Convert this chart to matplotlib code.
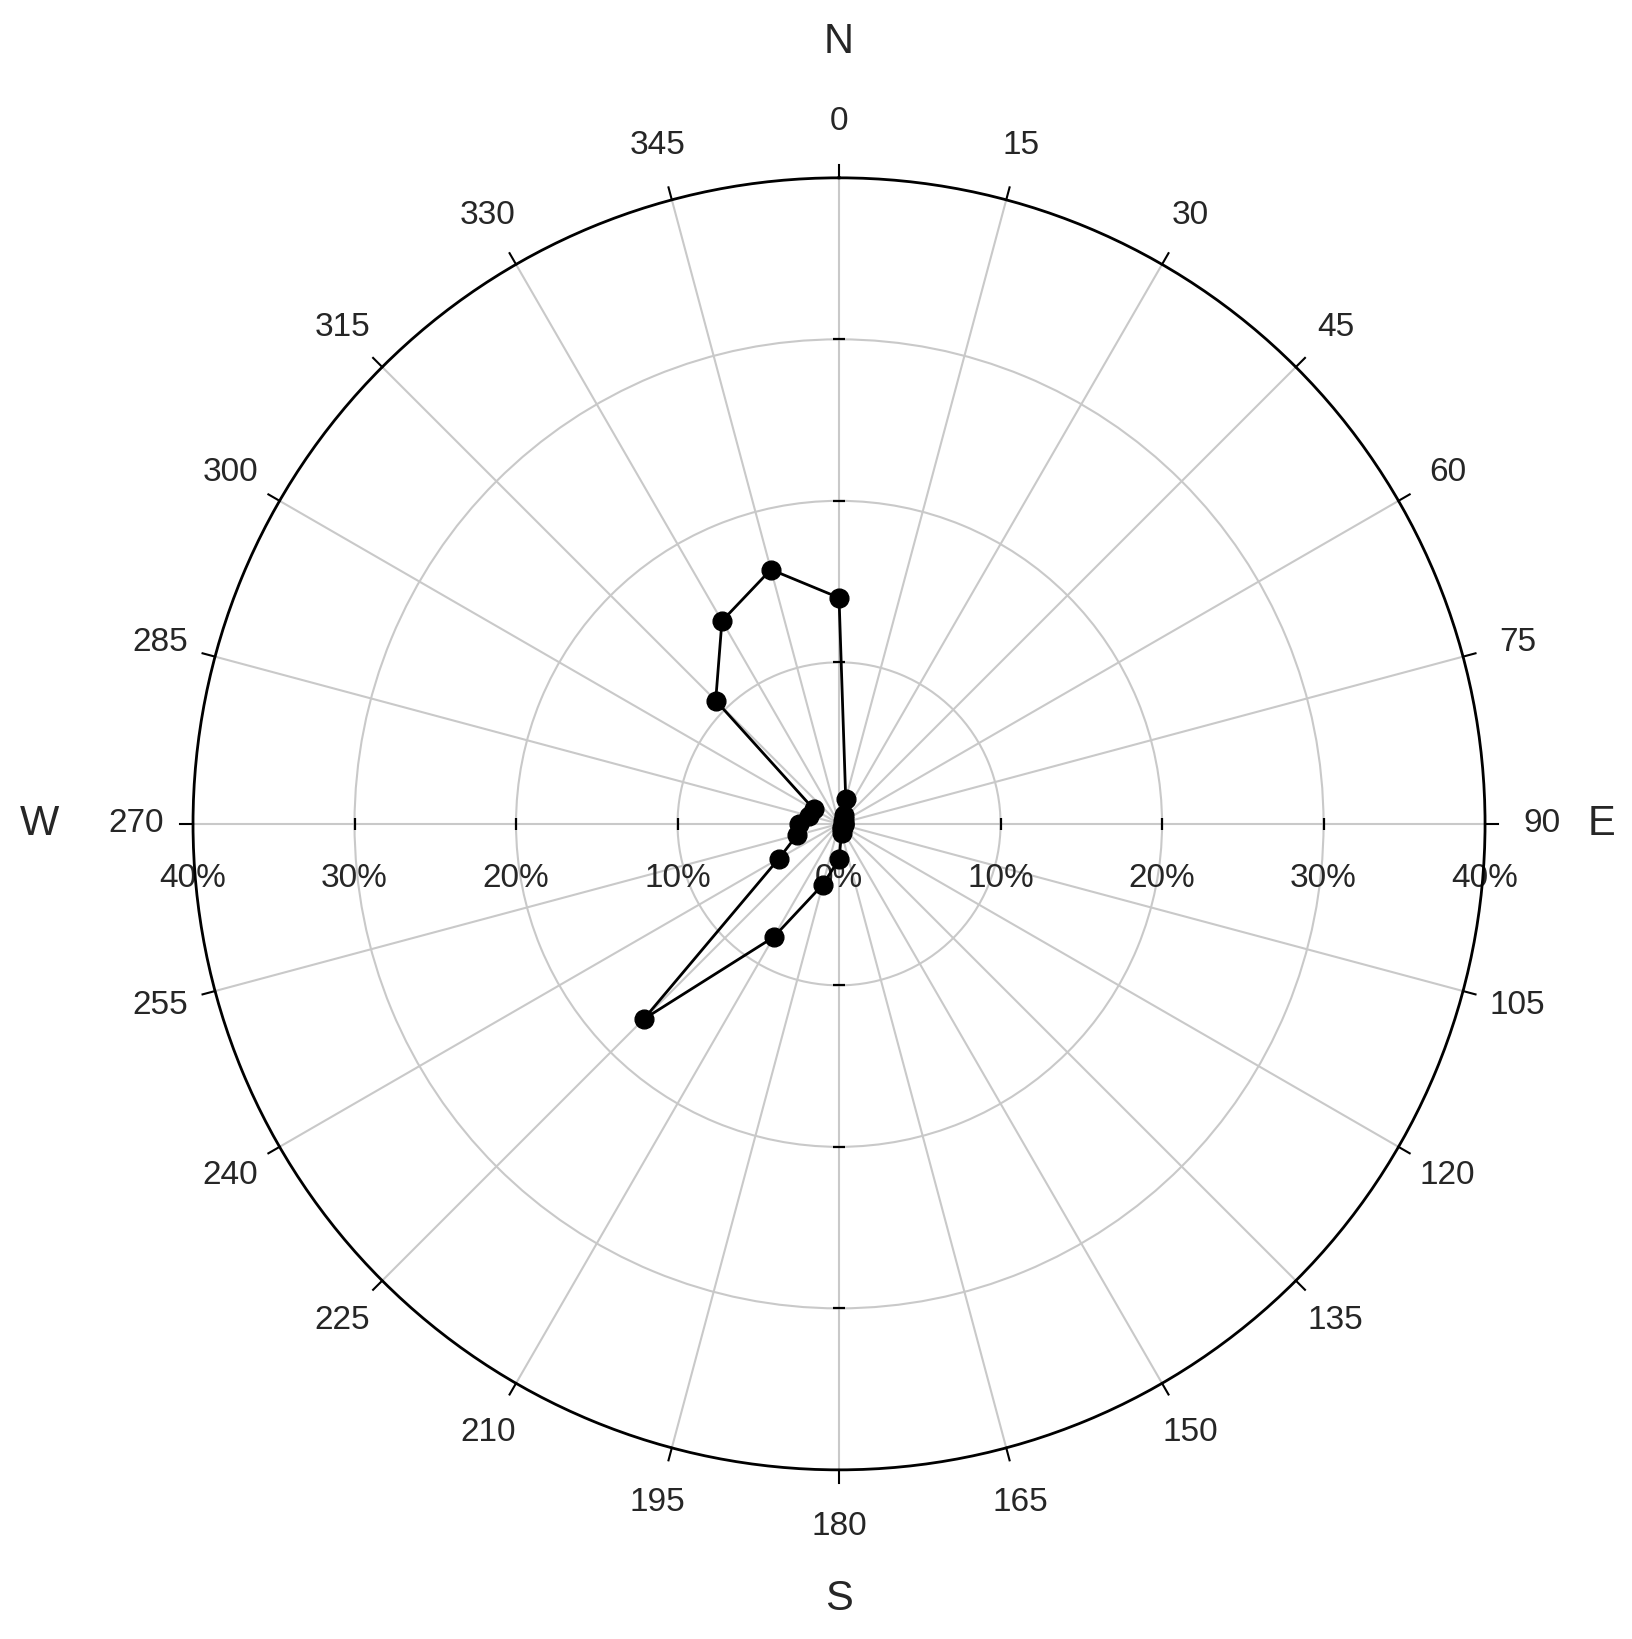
import numpy as np
import matplotlib
matplotlib.use("Agg")
import matplotlib.pyplot as plt

plt.rcParams["font.family"] = ["Liberation Sans", "DejaVu Sans"]

# wind direction frequency (%), compass degrees
directions = [0, 15, 30, 45, 60, 75, 90, 105, 120, 135, 150, 165,
              180, 195, 210, 225, 240, 255, 270, 285, 300, 315, 330, 345]
freq = [14.0, 1.6, 0.6, 0.4, 0.3, 0.3, 0.3, 0.3, 0.3, 0.3, 0.4, 0.6,
        2.2, 3.9, 8.1, 17.1, 4.3, 2.7, 2.5, 1.9, 1.8, 10.8, 14.5, 16.3]

angle_labels = [str(d) for d in directions]
ring_values = [10, 20, 30]
r_max = 40
pct_positions = [40, 30, 20, 10, 0, 10, 20, 30, 40]
pct_sides = [270, 270, 270, 270, 90, 90, 90, 90, 90]
compass = ["N", "E", "S", "W"]
compass_deg = [0, 90, 180, 270]
compass_r = [48.4, 47.2, 48.0, 49.5]

TXT = "#262626"
GRID = "#c9c9c9"

fig = plt.figure(figsize=(16.33, 16.39), dpi=100)
ax = fig.add_axes([0.1182, 0.1032, 0.7912, 0.7883], projection="polar")
ax.set_theta_zero_location("N")
ax.set_theta_direction(-1)
ax.set_ylim(0, r_max)

# grid
ax.set_thetagrids(directions, [""] * len(directions))
ax.set_rgrids(ring_values, [""] * len(ring_values))
ax.grid(True, color=GRID, linewidth=1.5)
ax.spines["polar"].set_color("black")
ax.spines["polar"].set_linewidth(2.0)
ax.tick_params(axis="both", length=0)

# outward ticks on the outer circle
for d in directions:
    ax.plot(np.deg2rad([d, d]), [r_max, r_max + 0.8], color="black",
            linewidth=1.5, clip_on=False, zorder=3)

# small ticks on the cross axes
for d in [0, 180]:
    ax.plot(np.deg2rad([d] * 3), ring_values, ls="none", marker="_",
            ms=8, mew=1.6, color="black", clip_on=False, zorder=3)
for d in [90, 270]:
    ax.plot(np.deg2rad([d] * 3), ring_values, ls="none", marker="|",
            ms=8, mew=1.6, color="black", clip_on=False, zorder=3)

# data
theta = np.deg2rad(directions + [directions[0]])
vals = freq + [freq[0]]
ax.plot(theta, vals, color="black", linewidth=2.0, zorder=4)
ax.plot(np.deg2rad(directions), freq, ls="none", marker="o", ms=13.5,
        color="black", zorder=5)

# direction labels
for d, lab in zip(directions, angle_labels):
    ax.text(np.deg2rad(d), 43.5, lab, ha="center", va="center",
            fontsize=24, color=TXT, clip_on=False)

# compass letters
for d, lab, rr in zip(compass_deg, compass, compass_r):
    ax.text(np.deg2rad(d), rr, lab, ha="center", va="center",
            fontsize=30, color=TXT, clip_on=False)

# percentage labels along the horizontal axis
for p, side in zip(pct_positions, pct_sides):
    ax.annotate(f"{p}%", xy=(np.deg2rad(side), p), xytext=(0, -39),
                textcoords="offset points", ha="center", va="center",
                fontsize=24, color=TXT, annotation_clip=False, zorder=2)

fig.savefig("out.png", dpi=100)
